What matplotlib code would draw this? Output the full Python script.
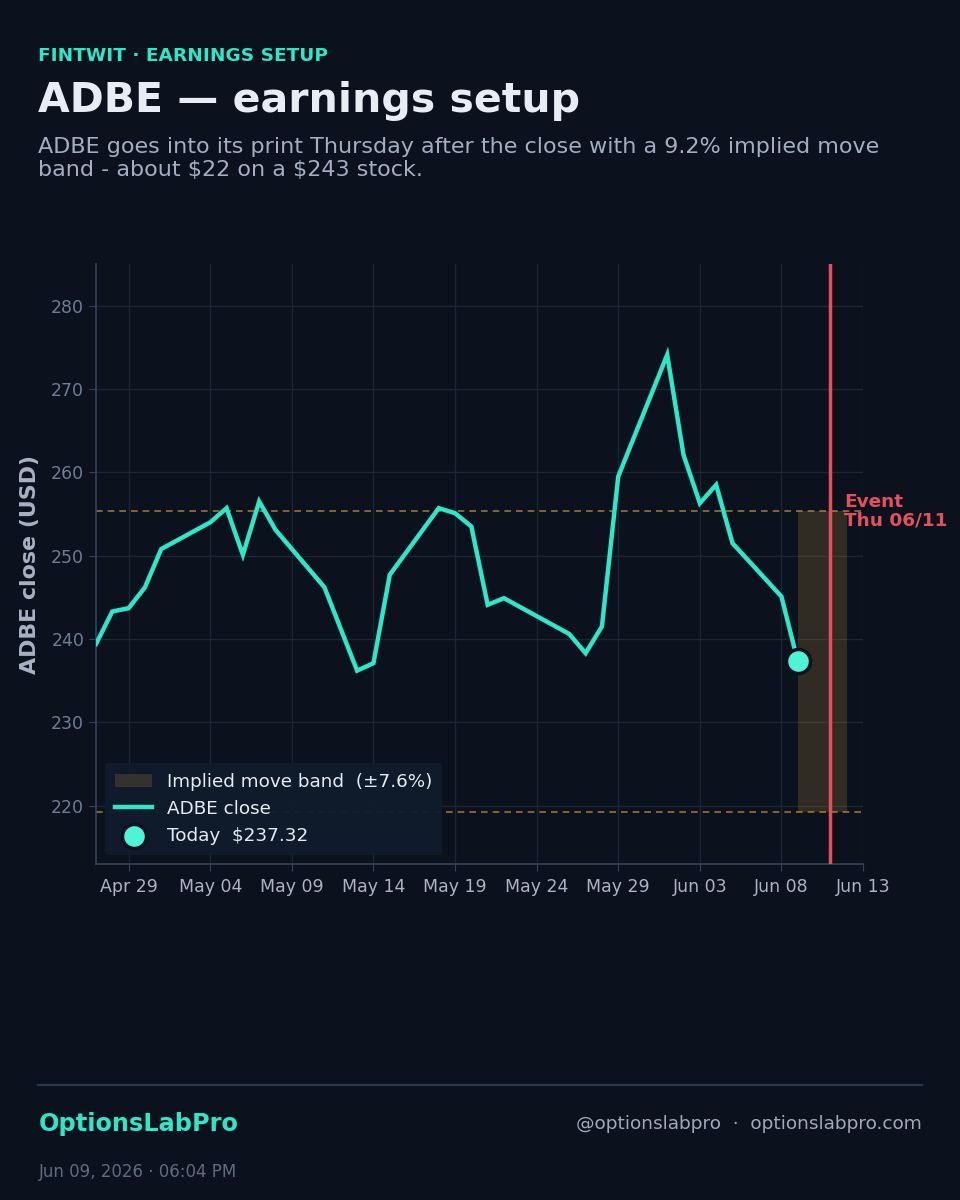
import numpy as np
import pandas as pd
import matplotlib
matplotlib.use('Agg')
import matplotlib.pyplot as plt
import matplotlib.dates as mdates

## data
dates = ['2026-04-27', '2026-04-28', '2026-04-29', '2026-04-30', '2026-05-01',
         '2026-05-04', '2026-05-05', '2026-05-06', '2026-05-07', '2026-05-08',
         '2026-05-11', '2026-05-12', '2026-05-13', '2026-05-14', '2026-05-15',
         '2026-05-18', '2026-05-19', '2026-05-20', '2026-05-21', '2026-05-22',
         '2026-05-26', '2026-05-27', '2026-05-28', '2026-05-29', '2026-06-01',
         '2026-06-02', '2026-06-03', '2026-06-04', '2026-06-05', '2026-06-08',
         '2026-06-09']
closes = [239.4, 243.3, 243.7, 246.2, 250.8,
          254.0, 255.7, 250.1, 256.5, 253.1,
          246.2, 241.2, 236.2, 237.1, 247.7,
          255.7, 255.1, 253.5, 244.1, 244.9,
          240.6, 238.3, 241.5, 259.5, 274.1,
          262.1, 256.3, 258.5, 251.5, 245.1,
          237.32]
ticker = 'ADBE'
today_close = 237.32
implied_pct = 7.6
event_date = '2026-06-11'
band_end = '2026-06-12'
xlim_dates = ['2026-04-27', '2026-06-13']
tick_dates = ['2026-04-29', '2026-05-04', '2026-05-09', '2026-05-14', '2026-05-19',
              '2026-05-24', '2026-05-29', '2026-06-03', '2026-06-08', '2026-06-13']
yticks = [220, 230, 240, 250, 260, 270, 280]

## colours
BG = '#0b121d'
TEAL = '#2ee6c8'
DOT = '#4df5d6'
GOLD = '#c8953c'
RED = '#e5505c'
GRID = '#1a2535'
SPINE = '#34435a'

df = pd.DataFrame({'date': pd.to_datetime(dates), 'close': closes})
hi = today_close * (1 + implied_pct / 100)
lo = today_close * (1 - implied_pct / 100)
ev = pd.Timestamp(event_date)

fig = plt.figure(figsize=(9.6, 12), dpi=100, facecolor=BG)
ax = fig.add_axes([0.1, 0.28, 0.799, 0.5], facecolor=BG)

# implied move band + dashed bounds
ax.fill_between([df['date'].iloc[-1], pd.Timestamp(band_end)], lo, hi,
                color=GOLD, alpha=0.2, lw=0, zorder=1,
                label=f'Implied move band  (\u00b1{implied_pct:.1f}%)')
for lvl in (hi, lo):
    ax.axhline(lvl, color=GOLD, lw=1.2, ls=(0, (4, 3)), alpha=0.75, zorder=2)

ax.plot(df['date'], df['close'], color=TEAL, lw=3.2, zorder=4,
        solid_joinstyle='miter', label=f'{ticker} close')
ax.scatter([df['date'].iloc[-1]], [today_close], s=300, color=DOT,
           edgecolor=BG, linewidth=2.5, zorder=5,
           label=f'Today  ${today_close:.2f}')

ax.axvline(ev, color=RED, lw=2.5, zorder=3)
ax.annotate('Event\nThu 06/11', xy=(ev, hi), xytext=(10, 0),
            textcoords='offset points', ha='left', va='center',
            color=RED, fontsize=13.3, fontweight='bold', linespacing=1.0)

ax.set_xlim(pd.to_datetime(xlim_dates))
ax.set_ylim(213, 285)
ax.set_xticks(pd.to_datetime(tick_dates))
ax.xaxis.set_major_formatter(mdates.DateFormatter('%b %d'))
ax.set_yticks(yticks)
ax.grid(True, color=GRID, lw=1)
ax.set_axisbelow(True)
for s in ['top', 'right']:
    ax.spines[s].set_visible(False)
for s in ['left', 'bottom']:
    ax.spines[s].set_color(SPINE)
    ax.spines[s].set_linewidth(1.2)
ax.tick_params(axis='both', colors=SPINE, length=5, labelsize=12.5)
ax.tick_params(axis='x', labelcolor='#aab4c6', pad=5)
ax.tick_params(axis='y', labelcolor='#6f7c93')
ax.set_ylabel(f'{ticker} close (USD)', color='#a8b2c4', fontsize=15.9,
              fontweight='bold', labelpad=8)

leg = ax.legend(loc='lower left', frameon=True, fontsize=13.2,
                facecolor='#101b2b', edgecolor='none', framealpha=0.95,
                labelcolor='#e6ebf2', borderpad=0.55, handlelength=2.0,
                handletextpad=0.8, borderaxespad=0,
                bbox_to_anchor=(0.012, 0.015))

# header
fig.text(0.04, 0.953, 'FINTWIT \u00b7 EARNINGS SETUP', color='#2ee6c8',
         fontsize=13.3, fontweight='bold', va='center')
fig.text(0.04, 0.916, f'{ticker} \u2014 earnings setup', color='#e8edf5',
         fontsize=29.5, fontweight='bold', va='center')
fig.text(0.04, 0.868,
         'ADBE goes into its print Thursday after the close with a 9.2% implied move\n'
         'band - about \\$22 on a \\$243 stock.',
         color='#a4aec2', fontsize=16, va='center', linespacing=1.2)

# footer
fig.add_artist(plt.Line2D([0.04, 0.96], [0.0958, 0.0958], color='#283850', lw=1.5))
fig.text(0.04, 0.063, 'OptionsLabPro', color='#2ee6c8', fontsize=17.3,
         fontweight='bold', va='center')
fig.text(0.96, 0.063, '@optionslabpro  \u00b7  optionslabpro.com', color='#a0aabb',
         fontsize=13.3, va='center', ha='right')
fig.text(0.04, 0.0233, 'Jun 09, 2026 \u00b7 06:04 PM', color='#5f6b80',
         fontsize=12, va='center')

fig.savefig('out.png', dpi=100, facecolor=BG)
